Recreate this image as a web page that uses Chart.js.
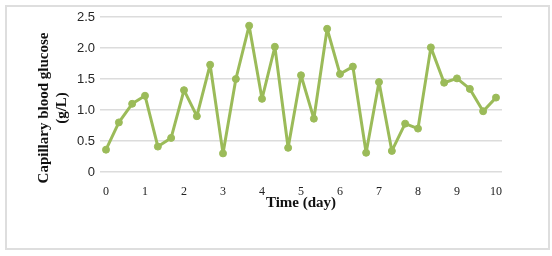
<!DOCTYPE html>
<html>
<head>
<meta charset="utf-8">
<script src="https://cdn.jsdelivr.net/npm/chart.js@4"></script>
<style>
  html, body { margin: 0; padding: 0; background: #fff; }
  #wrap { position: relative; width: 552px; height: 256px; }
  #frame { position: absolute; left: 5px; top: 5px; width: 541px; height: 241px; border: 2px solid #dedede; }
  canvas { position: absolute; left: 0; top: 0; }
</style>
</head>
<body>
<div id="wrap">
  <div id="frame"></div>
  <canvas id="glucoseChart" width="552" height="256"></canvas>
</div>
<script>
// time of each reading (day)
const days = [0, 0.33, 0.67, 1, 1.33, 1.67, 2, 2.33, 2.67, 3, 3.33, 3.67, 4, 4.33, 4.67, 5,
  5.33, 5.67, 6, 6.33, 6.67, 7, 7.33, 7.67, 8, 8.33, 8.67, 9, 9.33, 9.67, 10];

// capillary blood glucose (g/L)
const glucose = [0.36, 0.80, 1.10, 1.23, 0.41, 0.55, 1.32, 0.90, 1.73, 0.30, 1.50, 2.36, 1.18, 2.02, 0.39, 1.56,
  0.86, 2.31, 1.58, 1.70, 0.31, 1.45, 0.34, 0.78, 0.70, 2.01, 1.44, 1.51, 1.34, 0.98, 1.20];

const xTicks = [0, 1, 2, 3, 4, 5, 6, 7, 8, 9, 10];
const yTicks = [0, 0.5, 1, 1.5, 2, 2.5];
const yTickLabels = ['0', '0.5', '1.0', '1.5', '2.0', '2.5'];

const yTitleLines = ['Capillary blood glucose', '(g/L)'];

// y axis title, drawn by hand so it can sit a bit lower than the axis middle
const yTitlePlugin = {
  id: 'yTitle',
  afterDraw(chart) {
    const ctx = chart.ctx;
    ctx.save();
    ctx.font = "bold 15px 'Liberation Serif'";
    ctx.fillStyle = '#111';
    ctx.textAlign = 'center';
    ctx.textBaseline = 'middle';
    yTitleLines.forEach((line, i) => {
      ctx.save();
      ctx.translate(44 + i * 18, 108);
      ctx.rotate(-Math.PI / 2);
      ctx.fillText(line, 0, 0);
      ctx.restore();
    });
    ctx.restore();
  }
};

const ctx = document.getElementById('glucoseChart').getContext('2d');

new Chart(ctx, {
  type: 'line',
  data: {
    datasets: [{
      data: days.map((d, i) => ({ x: d, y: glucose[i] })),
      borderColor: '#9bbb59',
      backgroundColor: '#9bbb59',
      pointBackgroundColor: '#9bbb59',
      pointBorderColor: '#9bbb59',
      borderWidth: 3,
      borderJoinStyle: 'round',
      borderCapStyle: 'round',
      pointRadius: 3.5,
      pointBorderWidth: 1,
      tension: 0
    }]
  },
  options: {
    responsive: false,
    animation: false,
    layout: { padding: { left: 32, top: 17, right: 50, bottom: 44 } },
    plugins: {
      legend: { display: false },
      tooltip: { enabled: false }
    },
    scales: {
      x: {
        type: 'linear',
        min: -0.154,
        max: 10.154,
        afterBuildTicks: (scale) => { scale.ticks = xTicks.map(v => ({ value: v })); },
        afterFit: (scale) => { scale.height = 40; },
        grid: { display: false, drawTicks: false },
        border: { display: false },
        ticks: {
          padding: 13,
          color: '#222',
          font: { family: "'Liberation Serif'", size: 12 }
        },
        title: {
          display: true,
          text: 'Time (day)',
          color: '#111',
          padding: 0,
          font: { family: "'Liberation Serif'", size: 15, weight: 'bold' }
        }
      },
      y: {
        min: 0,
        max: 2.5,
        afterBuildTicks: (scale) => { scale.ticks = yTicks.map(v => ({ value: v })); },
        afterFit: (scale) => { scale.width = 68; },
        grid: { color: '#dcdcdc', lineWidth: 1.5, drawTicks: false },
        border: { display: false },
        ticks: {
          padding: 5,
          color: '#262626',
          font: { family: "'Liberation Sans'", size: 13 },
          callback: (value) => yTickLabels[yTicks.indexOf(value)]
        }
      }
    }
  },
  plugins: [yTitlePlugin]
});
</script>
</body>
</html>
